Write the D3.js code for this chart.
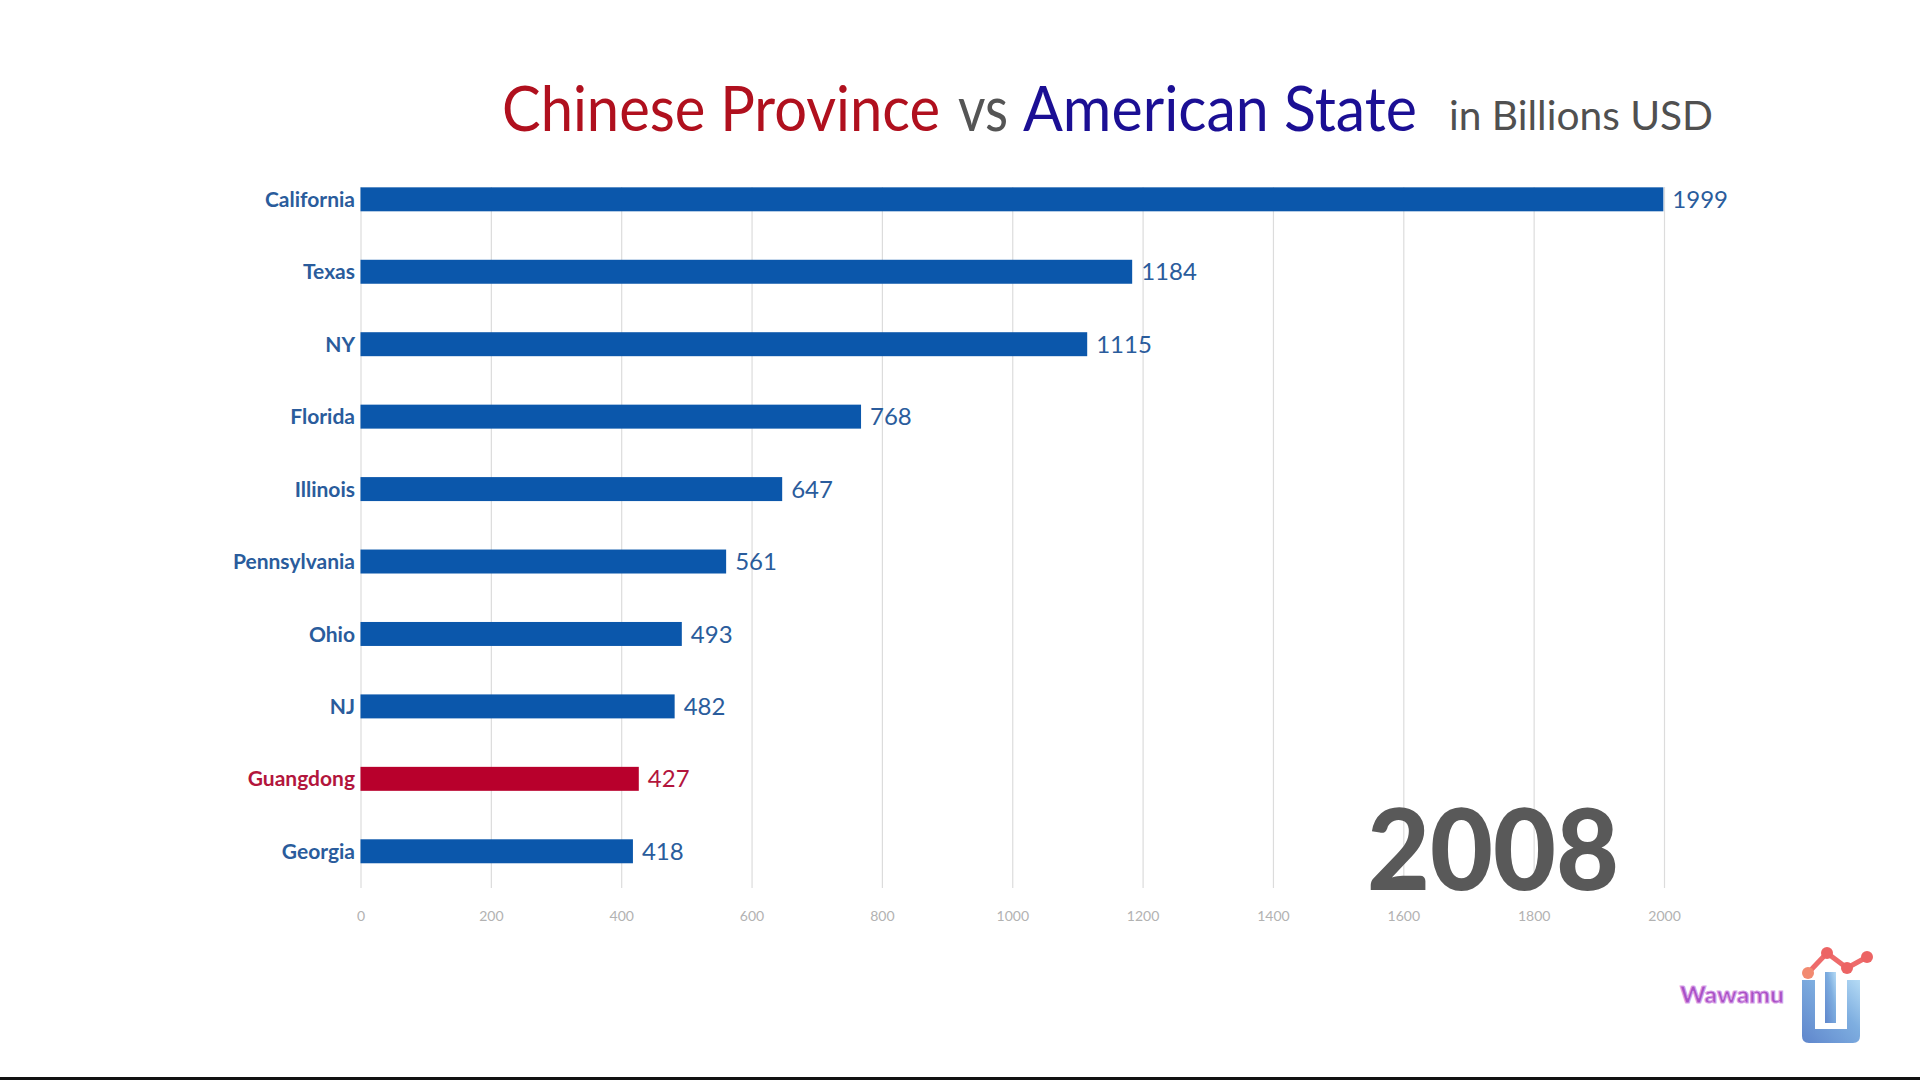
<!DOCTYPE html>
<html>
<head>
<meta charset="utf-8">
<script src="https://cdn.jsdelivr.net/npm/d3@7"></script>
<style>
html,body{margin:0;padding:0;background:#fff;overflow:hidden;}
svg{display:block;}
</style>
</head>
<body>
<svg id="chart" width="1920" height="1080"></svg>
<script>
const categories = ["California","Texas","NY","Florida","Illinois","Pennsylvania","Ohio","NJ","Guangdong","Georgia"];
const values = [1999,1184,1115,768,647,561,493,482,427,418];
const groups = ["US","US","US","US","US","US","US","US","CN","US"];
const tickValues = [0,200,400,600,800,1000,1200,1400,1600,1800,2000];
const yearLabel = "2008";
const titleParts = ["Chinese Province","vs","American State","in Billions USD"];

const barColor = {US:"#0b57ab", CN:"#b8002c"};
const labelColor = {US:"#2a5c9c", CN:"#b3153c"};

const svg = d3.select("#chart");
svg.append("rect").attr("width",1920).attr("height",1080).attr("fill","#fff");

const x = d3.scaleLinear().domain([0,2000]).range([360.5,1664]);
const y = d3.scaleBand().domain(categories).range([163.1,887.5]).paddingInner(0.669).paddingOuter(0.3345);

// gridlines
svg.append("g").selectAll("line").data(tickValues).join("line")
  .attr("x1",d=>x(d)+0.5).attr("x2",d=>x(d)+0.5)
  .attr("y1",187).attr("y2",888)
  .attr("stroke","#dcdcdc").attr("stroke-width",1.2);

// axis tick labels
const axis = d3.axisBottom(x).tickValues(tickValues).tickSize(0).tickPadding(0).tickFormat(d3.format("d"));
const ax = svg.append("g").attr("transform","translate(0,911)").call(axis);
ax.select(".domain").remove();
ax.selectAll("text").attr("font-family","Lato, 'Open Sans', sans-serif").attr("font-size",14).attr("fill","#b2b2b2");

// year
svg.append("text").attr("x",1619).attr("y",890).attr("text-anchor","end")
  .attr("font-family","Lato, 'Open Sans', sans-serif").attr("font-weight",900)
  .attr("font-size",112).attr("fill","#595959")
  .attr("textLength",252).attr("lengthAdjust","spacingAndGlyphs")
  .text(yearLabel);

const rows = categories.map((c,i)=>({c, v:values[i], g:groups[i]}));

// bars
svg.append("g").selectAll("rect").data(rows).join("rect")
  .attr("x",x(0)).attr("y",d=>y(d.c))
  .attr("width",d=>x(d.v)-x(0)).attr("height",y.bandwidth())
  .attr("fill",d=>barColor[d.g]);

// category labels
svg.append("g").selectAll("text").data(rows).join("text")
  .attr("x",355).attr("y",d=>y(d.c)+y.bandwidth()/2)
  .attr("dy","0.36em").attr("text-anchor","end")
  .attr("font-family","Lato, 'Open Sans', sans-serif").attr("font-weight",700)
  .attr("font-size",21).attr("fill",d=>labelColor[d.g])
  .text(d=>d.c);

// value labels
svg.append("g").selectAll("text").data(rows).join("text")
  .attr("x",d=>x(d.v)+9).attr("y",d=>y(d.c)+y.bandwidth()/2)
  .attr("dy","0.36em")
  .attr("font-family","Lato, 'Open Sans', sans-serif")
  .attr("font-size",24).attr("fill",d=>labelColor[d.g])
  .text(d=>d.v);

// title
const tf = "Lato, 'Open Sans', sans-serif";
svg.append("text").attr("x",502).attr("y",131).attr("font-family",tf).attr("font-size",61)
  .attr("fill","#b0101e").attr("textLength",438).attr("lengthAdjust","spacingAndGlyphs").text(titleParts[0]);
svg.append("text").attr("x",958).attr("y",131).attr("font-family",tf).attr("font-size",61)
  .attr("fill","#555555").attr("textLength",50).attr("lengthAdjust","spacingAndGlyphs").text(titleParts[1]);
svg.append("text").attr("x",1023).attr("y",131).attr("font-family",tf).attr("font-size",61)
  .attr("fill","#1b0f94").attr("textLength",394).attr("lengthAdjust","spacingAndGlyphs").text(titleParts[2]);
svg.append("text").attr("x",1449).attr("y",130).attr("font-family",tf).attr("font-size",40)
  .attr("fill","#505050").attr("textLength",264).attr("lengthAdjust","spacingAndGlyphs").text(titleParts[3]);

// logo
const defs = svg.append("defs");
const lg = defs.append("linearGradient").attr("id","ug").attr("x1","0").attr("y1","1").attr("x2","1").attr("y2","0");
lg.append("stop").attr("offset","0").attr("stop-color","#5f86cc");
lg.append("stop").attr("offset","0.6").attr("stop-color","#7eaee0");
lg.append("stop").attr("offset","1").attr("stop-color","#b5dbf5");
const logo = svg.append("g");
logo.append("path")
  .attr("d","M1802,980 L1815,980 L1815,1029 L1847,1029 L1847,980 L1860,980 L1860,1036 Q1860,1043 1853,1043 L1809,1043 Q1802,1043 1802,1036 Z")
  .attr("fill","url(#ug)");
logo.append("rect").attr("x",1825).attr("y",972).attr("width",11).attr("height",51).attr("fill","url(#ug)");
const pts = [[1808,973],[1827,953],[1847,968],[1867,957]];
logo.append("path").attr("d",d3.line()(pts)).attr("fill","none").attr("stroke","#ee6b6b").attr("stroke-width",5).attr("stroke-linejoin","round");
logo.selectAll("circle").data(pts).join("circle").attr("cx",d=>d[0]).attr("cy",d=>d[1]).attr("r",6)
  .attr("fill",(d,i)=>i===0?"#f28a70":"#ec6464");
svg.append("text").attr("x",1680).attr("y",1003).attr("font-family","Lato, sans-serif").attr("font-weight",900)
  .attr("font-size",23).attr("fill","#a850c4").attr("stroke","#d9a2e8").attr("stroke-width",1)
  .attr("textLength",104).attr("lengthAdjust","spacingAndGlyphs").text("Wawamu");

// bottom strip
svg.append("rect").attr("x",0).attr("y",1077).attr("width",1920).attr("height",3).attr("fill","#111");
</script>
</body>
</html>
